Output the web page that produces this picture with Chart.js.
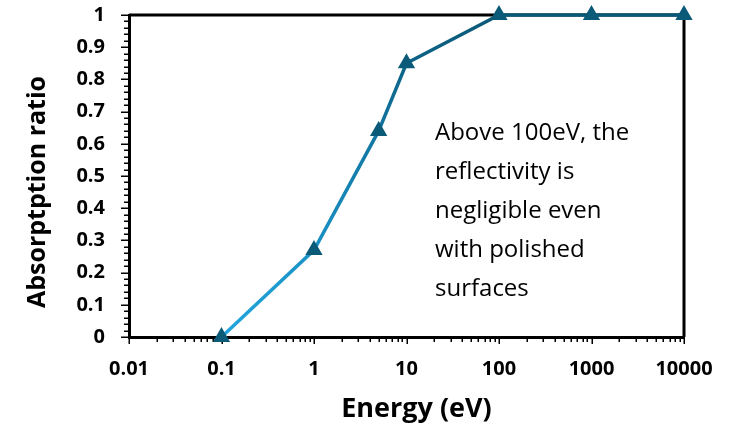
<!DOCTYPE html>
<html>
<head>
<meta charset="utf-8">
<script src="https://cdn.jsdelivr.net/npm/chart.js@4.4.1/dist/chart.umd.min.js"></script>
<style>
  html, body { margin: 0; padding: 0; background: #ffffff; }
  #wrap { width: 729px; height: 425px; }
</style>
</head>
<body>
<div id="wrap"><canvas id="chart" width="729" height="425"></canvas></div>
<script>
// Absorption ratio versus photon energy
const energies   = [0.1, 1, 5, 10, 100, 1000, 10000];
const absorption = [0, 0.27, 0.64, 0.85, 1, 1, 1];

const xTickValues = [0.01, 0.1, 1, 10, 100, 1000, 10000];
const xTickLabels = ['0.01', '0.1', '1', '10', '100', '1000', '10000'];
const yTickValues = [0, 0.1, 0.2, 0.3, 0.4, 0.5, 0.6, 0.7, 0.8, 0.9, 1];
const yTickLabels = ['0', '0.1', '0.2', '0.3', '0.4', '0.5', '0.6', '0.7', '0.8', '0.9', '1'];

const xTitle = 'Energy (eV)';
const yTitle = 'Absorptption ratio';
const noteLines = ['Above 100eV, the', 'reflectivity is', 'negligible even', 'with polished', 'surfaces'];

const FONT = '"Open Sans", "DejaVu Sans", sans-serif';

// Frame, tick marks (major + minor), axis titles and the note text
const decorations = {
  id: 'decorations',
  beforeDatasetsDraw(chart) {
    const { ctx, chartArea: a, scales: { x, y } } = chart;
    ctx.save();
    ctx.strokeStyle = '#000';
    // top and right frame lines
    ctx.lineWidth = 3;
    ctx.beginPath();
    ctx.moveTo(a.left, a.top);
    ctx.lineTo(a.right, a.top);
    ctx.lineTo(a.right, a.bottom);
    ctx.stroke();

    ctx.lineWidth = 1.5;
    ctx.beginPath();
    // x axis: decade ticks and log minor ticks, pointing down
    for (let d = 0.01; d <= 10000 * 1.0001; d *= 10) {
      const px = Math.round(x.getPixelForValue(d)) + 0.25;
      ctx.moveTo(px, a.bottom);
      ctx.lineTo(px, a.bottom + 7);
      if (d < 10000 * 0.999) {
        for (let m = 2; m <= 9; m++) {
          const mx = Math.round(x.getPixelForValue(m * d)) + 0.25;
          ctx.moveTo(mx, a.bottom);
          ctx.lineTo(mx, a.bottom + 5);
        }
      }
    }
    // y axis: major every 0.1, minor every 0.02, pointing left
    for (let i = 0; i <= 50; i++) {
      const py = Math.round(y.getPixelForValue(i / 50)) + 0.25;
      const len = (i % 5 === 0) ? 8 : 5;
      ctx.moveTo(a.left, py);
      ctx.lineTo(a.left - len, py);
    }
    ctx.stroke();
    ctx.restore();
  },
  afterDraw(chart) {
    const { ctx, chartArea: a } = chart;
    ctx.save();
    ctx.fillStyle = '#000';
    ctx.textBaseline = 'alphabetic';
    ctx.textAlign = 'center';
    // axis titles
    ctx.font = 'bold 27px ' + FONT;
    ctx.fillText(xTitle, (a.left + a.right) / 2 + 10, 417);
    ctx.font = 'bold 25px ' + FONT;
    ctx.save();
    ctx.translate(45, (a.top + a.bottom) / 2 + 16);
    ctx.rotate(-Math.PI / 2);
    ctx.fillText(yTitle, 0, 0);
    ctx.restore();
    // note inside the plot
    ctx.font = '24px ' + FONT;
    ctx.textAlign = 'left';
    noteLines.forEach((line, i) => {
      ctx.fillText(line, a.left + 306, 140 + i * 39);
    });
    ctx.restore();
  }
};

function lineGradient(context) {
  const { chart } = context;
  const a = chart.chartArea;
  if (!a) return '#1a8ab8';
  const g = chart.ctx.createLinearGradient(0, a.bottom, 0, a.top);
  g.addColorStop(0, '#22a6dd');
  g.addColorStop(0.45, '#1684b4');
  g.addColorStop(1, '#0a5877');
  return g;
}

new Chart(document.getElementById('chart'), {
  type: 'line',
  data: {
    datasets: [{
      data: energies.map((e, i) => ({ x: e, y: absorption[i] })),
      borderColor: lineGradient,
      borderWidth: 3.5,
      pointStyle: 'triangle',
      pointRadius: 8.5,
      pointHoverRadius: 8.5,
      pointBackgroundColor: '#0b5a78',
      pointBorderColor: '#0b5a78',
      pointBorderWidth: 1.5,
      tension: 0,
      clip: false
    }]
  },
  options: {
    responsive: false,
    animation: false,
    devicePixelRatio: 1,
    layout: { padding: { left: 0, top: 15, right: 45, bottom: 0 } },
    plugins: { legend: { display: false }, tooltip: { enabled: false } },
    scales: {
      x: {
        type: 'logarithmic',
        min: 0.01,
        max: 10000,
        afterBuildTicks: s => { s.ticks = xTickValues.map(v => ({ value: v })); },
        afterFit: s => { s.height = 88; s.paddingLeft = 0; s.paddingRight = 0; },
        grid: { display: false, drawTicks: false },
        border: { display: true, color: '#000', width: 3 },
        ticks: {
          autoSkip: false,
          maxRotation: 0,
          padding: 20,
          color: '#000',
          font: { family: FONT, size: 20, weight: 'bold' },
          callback: (v, i) => xTickLabels[i]
        }
      },
      y: {
        type: 'linear',
        min: 0,
        max: 1,
        afterBuildTicks: s => { s.ticks = yTickValues.map(v => ({ value: v })); },
        afterFit: s => { s.width = 129; s.paddingTop = 0; s.paddingBottom = 0; },
        grid: { display: false, drawTicks: false },
        border: { display: true, color: '#000', width: 3 },
        ticks: {
          autoSkip: false,
          padding: 24,
          color: '#000',
          font: { family: FONT, size: 20, weight: 'bold' },
          callback: (v, i) => yTickLabels[i]
        }
      }
    }
  },
  plugins: [decorations]
});
</script>
</body>
</html>
